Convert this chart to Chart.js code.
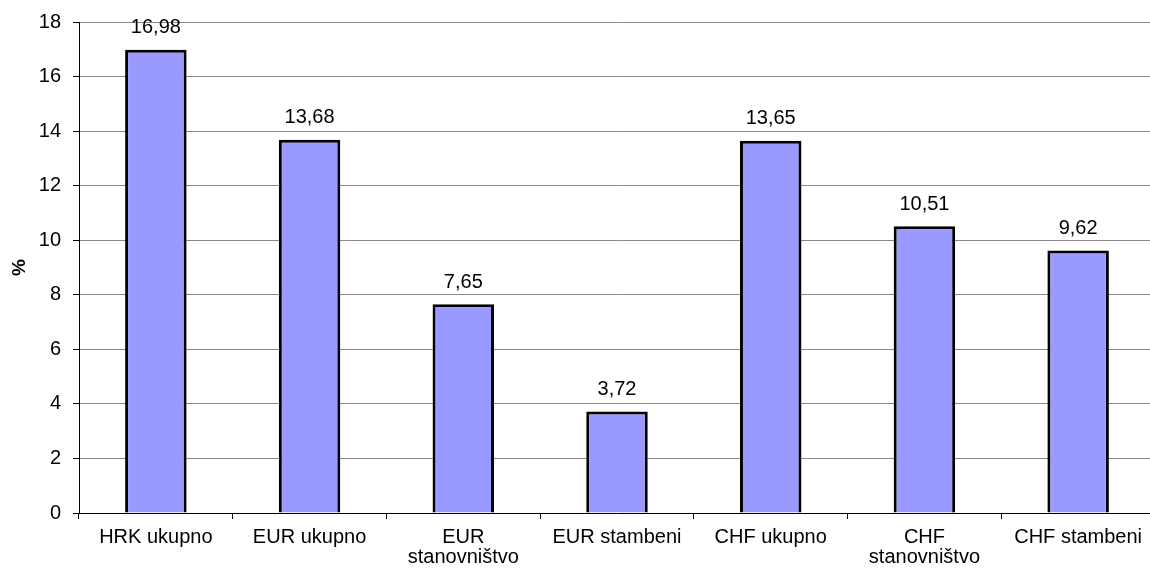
<!DOCTYPE html>
<html>
<head>
<meta charset="utf-8">
<script src="https://cdn.jsdelivr.net/npm/chart.js@4"></script>
<style>
  html, body { margin: 0; padding: 0; background: #fff; overflow: hidden; }
  #wrap { width: 1155px; height: 569px; }
</style>
</head>
<body>
<div id="wrap"><canvas id="c" width="1155" height="569"></canvas></div>
<script>
// podaci
const categories = ['HRK ukupno', 'EUR ukupno', ['EUR', 'stanovništvo'], 'EUR stambeni', 'CHF ukupno', ['CHF', 'stanovništvo'], 'CHF stambeni'];
const values = [16.98, 13.68, 7.65, 3.72, 13.65, 10.51, 9.62];
const yTicks = [0, 2, 4, 6, 8, 10, 12, 14, 16, 18];

const FONT = "'Liberation Sans', Arial, sans-serif";

// vrijednosti iznad stupaca
const valueLabels = {
  id: 'valueLabels',
  afterDatasetsDraw(chart) {
    const c = chart.ctx;
    const meta = chart.getDatasetMeta(0);
    c.save();
    c.font = '20px ' + FONT;
    c.fillStyle = '#000';
    c.textAlign = 'center';
    c.textBaseline = 'middle';
    meta.data.forEach((bar, i) => {
      c.fillText(values[i].toFixed(2).replace('.', ','), bar.x, bar.y - 22);
    });
    c.restore();
  }
};

const chart = new Chart(document.getElementById('c'), {
  type: 'bar',
  data: {
    labels: categories,
    datasets: [{
      data: values,
      backgroundColor: '#9999FF',
      borderColor: '#000',
      borderWidth: 3,
      barPercentage: 0.4,
      categoryPercentage: 1.0
    }]
  },
  options: {
    responsive: false,
    animation: false,
    layout: { padding: { top: 22, left: 0, right: 0, bottom: 0 } },
    plugins: { legend: { display: false }, tooltip: { enabled: false } },
    scales: {
      x: {
        grid: { drawOnChartArea: false, tickLength: 6, color: '#000', tickColor: '#000' },
        border: { color: '#000', width: 1 },
        ticks: { color: '#000', font: { family: FONT, size: 20, lineHeight: 1.0 }, padding: 8, maxRotation: 0, autoSkip: false },
        afterFit: s => { s.height = 56; }
      },
      y: {
        min: 0,
        max: 18,
        afterBuildTicks: s => { s.ticks = yTicks.map(v => ({ value: v })); },
        grid: { color: '#888', tickLength: 6, tickColor: '#000' },
        border: { color: '#000', width: 1 },
        ticks: { color: '#000', font: { family: FONT, size: 20, lineHeight: 1.0 }, padding: 12 },
        title: { display: true, text: '%', color: '#000', font: { family: FONT, size: 19, weight: 'bold' }, padding: { top: 8, bottom: 0 } },
        afterFit: s => { s.width = 79; s.paddingTop = 0; }
      }
    }
  },
  plugins: [valueLabels]
});
</script>
</body>
</html>
